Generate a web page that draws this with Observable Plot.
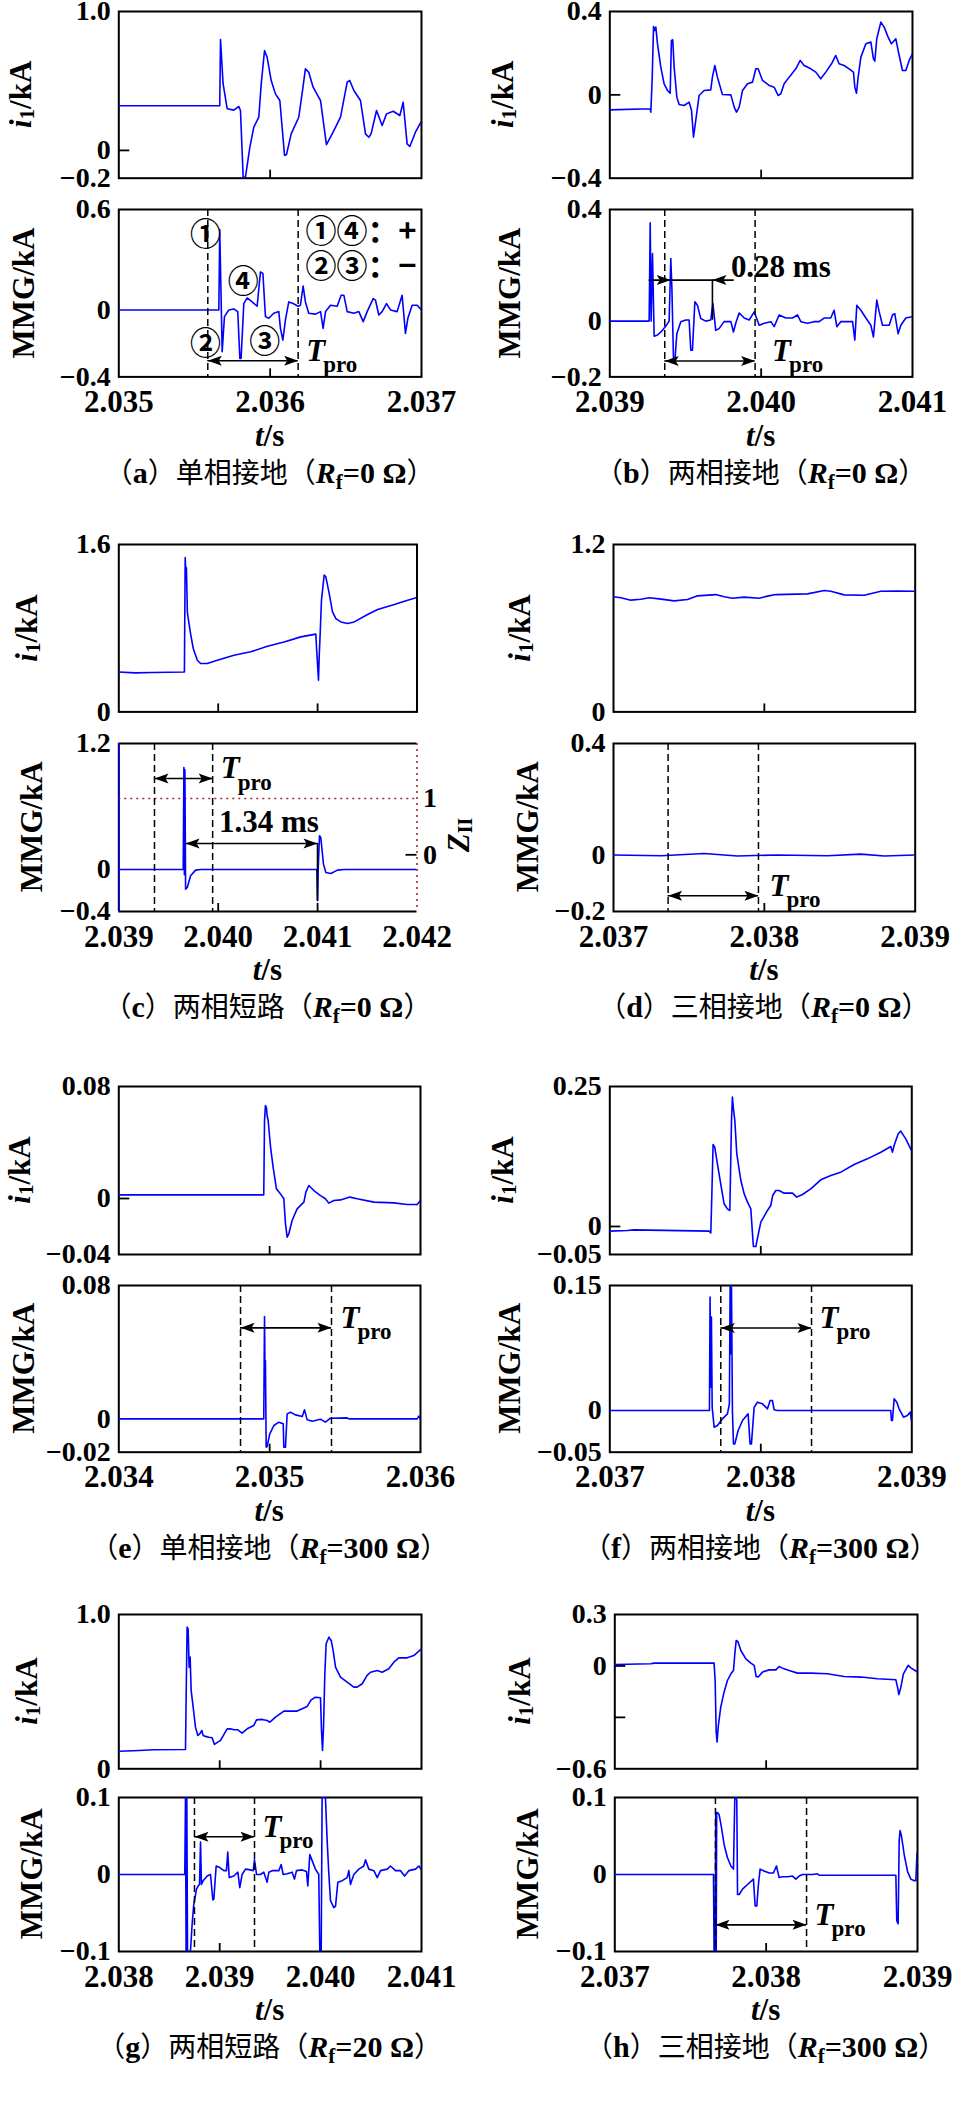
<!DOCTYPE html>
<html><head><meta charset="utf-8">
<script src="https://cdn.jsdelivr.net/npm/d3@7"></script>
<script src="https://cdn.jsdelivr.net/npm/@observablehq/plot@0.6"></script>
<style>
html,body{margin:0;padding:0;background:#fff;}
#page{position:relative;width:955px;height:2107px;overflow:hidden;background:#fff;}
#page [aria-label^="y-axis"] text{font-size:28px;font-weight:bold !important;font-family:'Liberation Serif','Times New Roman',serif;}
</style></head>
<body><div id="page"></div>
<script>
// ---------------- DATA (t in s, value in kA) ----------------
const a_i1 = [[2.035000,0.321],[2.035667,0.321],[2.035672,0.798],[2.035689,0.48],[2.035716,0.30],[2.035760,0.29],[2.035793,0.316],[2.035804,0.287],[2.035822,-0.2],[2.035837,-0.19],[2.035866,0.023],[2.035892,0.167],[2.035925,0.239],[2.035941,0.479],[2.035963,0.719],[2.035980,0.671],[2.036007,0.503],[2.036035,0.407],[2.036064,0.359],[2.036095,-0.037],[2.036108,-0.03],[2.036139,0.119],[2.036189,0.239],[2.036211,0.407],[2.036233,0.587],[2.036255,0.563],[2.036284,0.455],[2.036333,0.359],[2.036372,0.042],[2.036410,0.119],[2.036465,0.239],[2.036509,0.491],[2.036526,0.503],[2.036553,0.431],[2.036597,0.359],[2.036630,0.119],[2.036652,0.095],[2.036667,0.119],[2.036703,0.287],[2.036740,0.179],[2.036769,0.263],[2.036813,0.282],[2.036857,0.251],[2.036879,0.347],[2.036905,0.047],[2.036923,0.028],[2.036960,0.131],[2.037000,0.21]];
const a_mmg = [[2.035,0],[2.035661,0],[2.035667,0.48],[2.035683,-0.25],[2.035698,-0.04],[2.035727,0],[2.035760,0.006],[2.035786,-0.01],[2.035800,-0.29],[2.035808,-0.29],[2.035826,0.038],[2.035848,0.072],[2.035881,0.048],[2.035914,0.022],[2.035936,0.227],[2.035952,0.218],[2.035969,-0.04],[2.035991,-0.05],[2.036024,-0.02],[2.036057,-0.01],[2.036068,-0.11],[2.036084,-0.18],[2.036101,-0.06],[2.036123,0.048],[2.036152,0.038],[2.036185,0.022],[2.036200,0.028],[2.036218,0.142],[2.036233,0.048],[2.036255,-0.02],[2.036300,-0.025],[2.036333,-0.01],[2.036350,-0.11],[2.036366,-0.01],[2.036399,0.028],[2.036443,0.022],[2.036469,0.088],[2.036487,0.088],[2.036509,-0.01],[2.036553,-0.02],[2.036586,-0.01],[2.036615,-0.07],[2.036641,-0.01],[2.036681,0.068],[2.036696,0.058],[2.036718,-0.03],[2.036740,-0.01],[2.036769,0.038],[2.036795,0],[2.036839,-0.01],[2.036872,0.088],[2.036894,-0.14],[2.036910,-0.05],[2.036938,0.028],[2.036971,0.028],[2.037,0]];
const b_i1 = [[2.039000,-0.072],[2.039267,-0.067],[2.039271,-0.083],[2.039280,0.077],[2.039289,0.328],[2.039297,0.309],[2.039304,0.325],[2.039315,0.245],[2.039337,0.133],[2.039359,0.053],[2.039381,0.021],[2.039399,0.008],[2.039407,0.261],[2.039416,0.264],[2.039425,0.133],[2.039443,-0.011],[2.039458,-0.046],[2.039491,-0.051],[2.039524,-0.035],[2.039540,-0.075],[2.039553,-0.203],[2.039568,-0.123],[2.039590,-0.003],[2.039623,0.021],[2.039667,0.024],[2.039678,0.085],[2.039694,0.141],[2.039711,0.085],[2.039744,0.002],[2.039800,0],[2.039822,-0.059],[2.039837,-0.083],[2.039855,-0.059],[2.039877,0.021],[2.039910,0.053],[2.039943,0.061],[2.039965,0.125],[2.039980,0.125],[2.040009,0.069],[2.040053,0.045],[2.040086,0.037],[2.040112,-0.003],[2.040130,0.005],[2.040152,0.053],[2.040185,0.085],[2.040229,0.125],[2.040258,0.165],[2.040284,0.141],[2.040328,0.125],[2.040361,0.109],[2.040394,0.077],[2.040427,0.109],[2.040465,0.149],[2.040493,0.189],[2.040515,0.149],[2.040548,0.141],[2.040581,0.125],[2.040610,0.109],[2.040619,0.037],[2.040630,0.008],[2.040641,0.085],[2.040659,0.181],[2.040692,0.245],[2.040725,0.253],[2.040742,0.173],[2.040751,0.162],[2.040764,0.269],[2.040791,0.349],[2.040813,0.325],[2.040839,0.277],[2.040861,0.245],[2.040890,0.269],[2.040905,0.213],[2.040934,0.117],[2.040956,0.117],[2.040978,0.165],[2.041,0.197]];
const b_mmg = [[2.039,0],[2.039260,0],[2.039267,0.352],[2.039273,0],[2.039282,0.242],[2.039293,-0.054],[2.039315,-0.05],[2.039348,-0.033],[2.039370,-0.018],[2.039392,0],[2.039403,0.224],[2.039410,0.123],[2.039421,-0.14],[2.039430,-0.143],[2.039443,-0.045],[2.039469,-0.002],[2.039502,0.004],[2.039524,0.004],[2.039535,-0.104],[2.039546,-0.104],[2.039562,0.069],[2.039579,0.057],[2.039601,0.009],[2.039634,0],[2.039667,0.004],[2.039681,0.063],[2.039700,-0.033],[2.039722,-0.027],[2.039755,-0.002],[2.039800,-0.002],[2.039817,-0.039],[2.039833,-0.006],[2.039855,0.029],[2.039888,0.011],[2.039921,0.004],[2.039954,0.033],[2.039987,-0.015],[2.040020,-0.008],[2.040064,-0.002],[2.040086,-0.02],[2.040119,0.022],[2.040163,0.011],[2.040207,0.011],[2.040240,0.022],[2.040262,-0.002],[2.040306,-0.008],[2.040350,-0.002],[2.040383,-0.002],[2.040416,0.011],[2.040460,0.011],[2.040482,0.039],[2.040500,-0.02],[2.040526,-0.002],[2.040570,-0.002],[2.040604,-0.002],[2.040619,-0.068],[2.040632,0.057],[2.040659,0.039],[2.040692,0.011],[2.040725,-0.015],[2.040742,-0.057],[2.040764,0.075],[2.040780,0.033],[2.040802,-0.015],[2.040846,-0.015],[2.040868,0.022],[2.040883,0.027],[2.040905,-0.045],[2.040923,-0.015],[2.040956,0.011],[2.041,0.016]];
const c_i1 = [[2.039000,0.382],[2.039168,0.373],[2.039336,0.376],[2.039660,0.382],[2.039668,1.476],[2.039675,1.30],[2.039680,1.38],[2.039690,0.95],[2.039705,0.85],[2.039722,0.749],[2.039749,0.606],[2.039790,0.494],[2.039823,0.462],[2.039890,0.462],[2.039991,0.494],[2.040159,0.542],[2.040327,0.574],[2.040495,0.628],[2.040663,0.669],[2.040831,0.717],[2.040982,0.743],[2.040989,0.621],[2.041009,0.303],[2.041016,0.526],[2.041026,0.749],[2.041039,1.068],[2.041066,1.307],[2.041083,1.291],[2.041117,1.131],[2.041150,0.956],[2.041184,0.892],[2.041234,0.86],[2.041301,0.845],[2.041368,0.86],[2.041503,0.931],[2.041604,0.978],[2.041772,1.026],[2.041906,1.068],[2.042,1.093]];
const c_mmg = [[2.039,1.2],[2.039,-0.4],[2.039,0],[2.039648,0],[2.039655,0.971],[2.039660,-0.05],[2.039665,0.95],[2.039672,-0.187],[2.039689,-0.171],[2.039722,-0.06],[2.039773,-0.006],[2.039823,0],[2.040992,0],[2.040999,-0.298],[2.041006,0],[2.041019,0.321],[2.041032,0.305],[2.041059,0.051],[2.041083,-0.029],[2.041133,-0.038],[2.041200,-0.006],[2.041268,0],[2.042,0]];
const d_i1 = [[2.037000,0.825],[2.037049,0.818],[2.037115,0.801],[2.037181,0.808],[2.037236,0.818],[2.037303,0.810],[2.037402,0.796],[2.037491,0.806],[2.037557,0.832],[2.037678,0.841],[2.037734,0.825],[2.037789,0.815],[2.037866,0.823],[2.037966,0.815],[2.038021,0.830],[2.038076,0.841],[2.038286,0.846],[2.038397,0.870],[2.038441,0.865],[2.038529,0.839],[2.038662,0.836],[2.038772,0.865],[2.038883,0.867],[2.039,0.865]];
const d_mmg = [[2.037,0.002],[2.037314,-0.001],[2.037601,0.007],[2.037822,-0.002],[2.038087,0.002],[2.038419,-0.001],[2.038640,0.005],[2.038795,-0.002],[2.039,0.002]];
const e_i1 = [[2.034,0.0026],[2.034961,0.0026],[2.034966,0.0557],[2.034972,0.0664],[2.034979,0.0648],[2.034983,0.0593],[2.034990,0.0557],[2.035006,0.0367],[2.035023,0.0224],[2.035045,0.0069],[2.035072,0.0033],[2.035094,-0.0002],[2.035105,-0.0181],[2.035116,-0.0276],[2.035127,-0.0252],[2.035149,-0.0157],[2.035182,-0.0074],[2.035227,-0.0026],[2.035240,0.0045],[2.035260,0.0093],[2.035293,0.0057],[2.035337,0.0021],[2.035370,-0.0002],[2.035392,-0.0033],[2.035425,-0.0014],[2.035470,-0.0010],[2.035532,0.0010],[2.035580,-0.0002],[2.035691,-0.0026],[2.035823,-0.0031],[2.035912,-0.0043],[2.035978,-0.0043],[2.036,-0.0014]];
const e_mmg = [[2.034,0],[2.034961,0],[2.034966,0.0614],[2.034970,0.019],[2.034972,0.035],[2.034977,-0.017],[2.034983,-0.0166],[2.035001,-0.009],[2.035028,-0.004],[2.035061,-0.002],[2.035090,-0.003],[2.035094,-0.017],[2.035105,-0.017],[2.035116,0.003],[2.035138,0.004],[2.035171,0.0024],[2.035216,0.0014],[2.035231,0.0054],[2.035249,-0.0006],[2.035282,-0.0014],[2.035337,-0.0002],[2.035370,-0.002],[2.035403,0.0004],[2.035514,0.0006],[2.035525,0],[2.035978,0],[2.035989,0.0016],[2.036,0]];
const f_i1 = [[2.037,-0.0083],[2.037117,-0.0071],[2.037161,-0.006],[2.037658,-0.0083],[2.037669,-0.0113],[2.037676,0.0583],[2.037684,0.1464],[2.037695,0.1417],[2.037709,0.1179],[2.037731,0.0821],[2.037757,0.0405],[2.037779,0.0315],[2.037795,0.0286],[2.037806,0.1893],[2.037812,0.231],[2.037819,0.2101],[2.037828,0.1893],[2.037841,0.1298],[2.037868,0.0821],[2.037890,0.0583],[2.037912,0.0435],[2.037934,0.0315],[2.037945,-0.0131],[2.037951,-0.0357],[2.037967,-0.0357],[2.038000,0.0077],[2.038044,0.0286],[2.038066,0.0375],[2.038079,0.0554],[2.038099,0.0643],[2.038121,0.0643],[2.038155,0.0595],[2.038210,0.0595],[2.038238,0.0524],[2.038276,0.0571],[2.038331,0.0673],[2.038397,0.0833],[2.038464,0.0911],[2.038530,0.0970],[2.038618,0.1107],[2.038706,0.1208],[2.038795,0.1327],[2.038861,0.1429],[2.038872,0.1327],[2.038883,0.1446],[2.038910,0.1655],[2.038927,0.1702],[2.038960,0.1565],[2.039,0.1345]];
const f_mmg = [[2.037,0],[2.037660,0],[2.037664,0.136],[2.037669,0.028],[2.037673,0.112],[2.037678,0.004],[2.037691,-0.02],[2.037713,-0.018],[2.037746,-0.01],[2.037779,-0.004],[2.037792,0.008],[2.037797,0.15],[2.037801,0.068],[2.037806,0.148],[2.037812,0],[2.037819,-0.04],[2.037828,-0.04],[2.037850,-0.024],[2.037879,-0.012],[2.037916,-0.004],[2.037929,-0.04],[2.037938,-0.04],[2.037956,0.004],[2.037978,0.01],[2.038011,0.008],[2.038044,0.002],[2.038062,0.012],[2.038077,0.012],[2.038088,0.001],[2.038110,0],[2.038861,0],[2.038865,-0.012],[2.038872,-0.012],[2.038883,0.014],[2.038901,0.01],[2.038916,0.002],[2.038945,-0.008],[2.038971,-0.006],[2.038989,-0.002],[2.039,-0.014]];
const g_i1 = [[2.038,0.114],[2.038149,0.117],[2.038347,0.123],[2.038661,0.125],[2.038667,0.443],[2.038677,0.918],[2.038687,0.907],[2.038697,0.659],[2.038707,0.724],[2.038717,0.508],[2.038737,0.40],[2.038760,0.27],[2.038783,0.216],[2.038803,0.227],[2.038823,0.248],[2.038836,0.216],[2.038859,0.210],[2.038892,0.205],[2.038925,0.201],[2.038948,0.158],[2.039008,0.184],[2.039074,0.259],[2.039107,0.259],[2.039140,0.253],[2.039180,0.253],[2.039222,0.231],[2.039272,0.259],[2.039338,0.281],[2.039365,0.317],[2.039421,0.320],[2.039470,0.313],[2.039497,0.302],[2.039553,0.335],[2.039636,0.374],[2.039702,0.374],[2.039768,0.374],[2.039817,0.389],[2.039867,0.404],[2.039906,0.447],[2.039949,0.464],[2.039999,0.46],[2.040009,0.248],[2.040019,0.119],[2.040029,0.270],[2.040042,0.616],[2.040055,0.81],[2.040082,0.853],[2.040105,0.832],[2.040124,0.767],[2.040148,0.659],[2.040197,0.594],[2.040263,0.562],[2.040329,0.529],[2.040362,0.529],[2.040412,0.551],[2.040461,0.605],[2.040495,0.626],[2.040561,0.637],[2.040610,0.626],[2.040676,0.648],[2.040726,0.691],[2.040775,0.719],[2.040858,0.719],[2.040924,0.734],[2.041,0.778]];
const g_mmg = [[2.038,0],[2.038654,0],[2.038661,0.1],[2.038667,-0.1],[2.038674,0.1],[2.038681,-0.1],[2.038694,-0.1],[2.038710,-0.1],[2.038727,-0.064],[2.038743,-0.039],[2.038770,-0.019],[2.038786,-0.015],[2.038800,-0.013],[2.038810,0.042],[2.038819,-0.013],[2.038836,-0.008],[2.038876,-0.002],[2.038909,0],[2.038932,-0.033],[2.038942,-0.032],[2.038965,0.011],[2.039001,0.009],[2.039041,0.005],[2.039067,0.005],[2.039080,0.029],[2.039094,-0.004],[2.039140,-0.002],[2.039180,0.003],[2.039199,-0.017],[2.039222,0],[2.039256,0.007],[2.039305,0.006],[2.039332,0.005],[2.039345,0.019],[2.039365,0],[2.039404,0],[2.039437,0.003],[2.039470,-0.01],[2.039487,0.003],[2.039520,0.005],[2.039586,0.005],[2.039609,0.013],[2.039629,0],[2.039669,0.001],[2.039718,0.003],[2.039741,-0.006],[2.039761,0.005],[2.039817,0.006],[2.039860,0.004],[2.039873,-0.015],[2.039893,0.026],[2.039916,0.018],[2.039949,0.007],[2.039982,0],[2.039992,-0.1],[2.040006,-0.1],[2.040015,0.1],[2.040032,0.1],[2.040048,0.1],[2.040065,0.044],[2.040082,0],[2.040098,-0.034],[2.040131,-0.043],[2.040148,-0.041],[2.040171,-0.01],[2.040214,-0.008],[2.040263,-0.004],[2.040280,0.005],[2.040296,-0.013],[2.040329,0],[2.040379,0.007],[2.040428,0.011],[2.040445,0.019],[2.040478,0.007],[2.040528,0.005],[2.040561,-0.004],[2.040594,0.005],[2.040660,0.007],[2.040693,0.011],[2.040742,0.005],[2.040792,0.005],[2.040832,-0.002],[2.040874,0.005],[2.040941,0.007],[2.040974,0.011],[2.041,0.006]];
const h_i1 = [[2.037,0.0084],[2.037238,0.0123],[2.037260,0.0162],[2.037656,0.0162],[2.037663,-0.085],[2.037670,-0.386],[2.037676,-0.444],[2.037683,-0.357],[2.037700,-0.24],[2.037722,-0.153],[2.037744,-0.085],[2.037767,-0.046],[2.037784,-0.027],[2.037793,0.071],[2.037802,0.148],[2.037813,0.143],[2.037833,0.09],[2.037866,0.041],[2.037899,0.016],[2.037921,0.003],[2.037934,-0.062],[2.037947,-0.065],[2.037976,-0.036],[2.038020,-0.023],[2.038064,-0.023],[2.038086,-0.003],[2.038108,-0.013],[2.038152,-0.027],[2.038207,-0.042],[2.038295,-0.042],[2.038405,-0.046],[2.038515,-0.062],[2.038626,-0.065],[2.038736,-0.075],[2.038857,-0.081],[2.038868,-0.124],[2.038877,-0.167],[2.038890,-0.124],[2.038907,-0.046],[2.038938,0.003],[2.038956,-0.011],[2.039,-0.036]];
const h_mmg = [[2.037,0],[2.037652,0],[2.037656,-0.1],[2.037663,-0.1],[2.037667,0.0805],[2.037670,-0.1],[2.037673,0.0805],[2.037678,0.0805],[2.037689,0.078],[2.037705,0.061],[2.037722,0.039],[2.037744,0.022],[2.037767,0.011],[2.037784,0.007],[2.037793,0.1],[2.037802,0.1],[2.037806,0.096],[2.037811,-0.026],[2.037822,-0.026],[2.037844,-0.019],[2.037877,-0.013],[2.037916,-0.006],[2.037927,-0.041],[2.037938,-0.041],[2.037949,-0.013],[2.037960,0.007],[2.037982,0.005],[2.038020,0.002],[2.038048,0.002],[2.038068,0.011],[2.038086,-0.004],[2.038108,-0.003],[2.038141,-0.003],[2.038174,-0.002],[2.038196,-0.006],[2.038218,-0.002],[2.038240,0],[2.038306,0],[2.038339,0.001],[2.038350,-0.001],[2.038857,-0.001],[2.038863,-0.06],[2.038872,-0.064],[2.038879,0.044],[2.038885,0.057],[2.038894,0.05],[2.038912,0.026],[2.038934,0.004],[2.038956,-0.006],[2.038978,-0.008],[2.038989,-0.008],[2.038996,0.026],[2.039,0.029]];

// ticks
const a_xTicks=[2.035,2.036,2.037], b_xTicks=[2.039,2.040,2.041], c_xTicks=[2.039,2.040,2.041,2.042], d_xTicks=[2.037,2.038,2.039];
const e_xTicks=[2.034,2.035,2.036], f_xTicks=[2.037,2.038,2.039], g_xTicks=[2.038,2.039,2.040,2.041], h_xTicks=[2.037,2.038,2.039];
const a_i1Ticks=[1.0,0,-0.2], a_i1Labels=["1.0","0","−0.2"];
const a_mmgTicks=[0.6,0,-0.4], a_mmgLabels=["0.6","0","−0.4"];
const b_i1Ticks=[0.4,0,-0.4], b_i1Labels=["0.4","0","−0.4"];
const b_mmgTicks=[0.4,0,-0.2], b_mmgLabels=["0.4","0","−0.2"];
const c_i1Ticks=[1.6,0], c_i1Labels=["1.6","0"];
const c_mmgTicks=[1.2,0,-0.4], c_mmgLabels=["1.2","0","−0.4"];
const c_zTicks=[1,0], c_zLabels=["1","0"], c_zAt=[0.676,0.140]; // Z_II tick positions on MMG axis
const d_i1Ticks=[1.2,0], d_i1Labels=["1.2","0"];
const d_mmgTicks=[0.4,0,-0.2], d_mmgLabels=["0.4","0","−0.2"];
const e_i1Ticks=[0.08,0,-0.04], e_i1Labels=["0.08","0","−0.04"];
const e_mmgTicks=[0.08,0,-0.02], e_mmgLabels=["0.08","0","−0.02"];
const f_i1Ticks=[0.25,0,-0.05], f_i1Labels=["0.25","0","−0.05"];
const f_mmgTicks=[0.15,0,-0.05], f_mmgLabels=["0.15","0","−0.05"];
const g_i1Ticks=[1.0,0], g_i1Labels=["1.0","0"];
const g_mmgTicks=[0.1,0,-0.1], g_mmgLabels=["0.1","0","−0.1"];
const h_i1Ticks=[0.3,0,-0.6], h_i1Labels=["0.3","0","−0.6"];
const h_mmgTicks=[0.1,0,-0.1], h_mmgLabels=["0.1","0","−0.1"];

// annotations: dashed lines (Tpro limits) and Tpro arrow level
const a_tpro=[2.035588,2.036185], a_tproY=-0.304;
const b_tpro=[2.039363,2.039960], b_tproY=-0.143;
const c_tpro=[2.039359,2.039944], c_tproY=0.867;
const d_tpro=[2.037362,2.037961], d_tproY=-0.144;
const e_tpro=[2.034807,2.035410], e_tproY=0.0546;
const f_tpro=[2.037735,2.038336], f_tproY=0.099;
const g_tpro=[2.038750,2.039345], g_tproY=0.049;
const h_tpro=[2.037665,2.038267], h_tproY=-0.0654;
const b_gap=[2.039260,2.039403,2.039678,2.039822], b_gapY=0.147, b_gapText="0.28 ms";
const c_gap=[2.039672,2.040999], c_gapY=0.248, c_gapText="1.34 ms";
const a_marks=[{s:"①",t:2.035573,v:0.447},{s:"④",t:2.035822,v:0.168},{s:"②",t:2.035573,v:-0.201},{s:"③",t:2.035965,v:-0.191}];
const a_legend=[{s:"①④：+",t:2.036233,v:0.467},{s:"②③：−",t:2.036233,v:0.257}];

const capLetters=["a","b","c","d","e","f","g","h"];
const capNames=["单相接地","两相接地","两相短路","三相接地","单相接地","两相接地","两相短路","三相接地"];
const capRf=["0","0","0","0","300","300","20","300"];

// ---------------- DRAWING ----------------
const BLUE="#0000ff", RED="#a52a2a";
const SERIF="'Liberation Serif','Times New Roman',serif";
const CJK="'Noto Sans CJK SC','Noto Sans CJK JP',sans-serif";
const page=document.getElementById("page");

function headSym(dir){return {draw(ctx){const L=14,W=5,N=3;ctx.moveTo(0,0);ctx.lineTo(-dir*L,-W);ctx.lineTo(-dir*(L-N),0);ctx.lineTo(-dir*L,W);ctx.closePath();}};}
const HEAD_R=headSym(1), HEAD_L=headSym(-1);
function head(x,y,sym){return Plot.dot([{x,y}],{x:"x",y:"y",symbol:sym,fill:"black",stroke:"none"});}
function dblArrow(x1,x2,y){return [Plot.ruleY([{x1,x2,y}],{x1:"x1",x2:"x2",y:"y",stroke:"black",strokeWidth:1.6}),head(x1,y,HEAD_L),head(x2,y,HEAD_R)];}
function tproText(x,y,dx){return [
  Plot.text([{x,y}],{x:"x",y:"y",text:()=>"T",fontStyle:"italic",fontWeight:"bold",fontSize:31,fontFamily:SERIF,textAnchor:"start",dx:dx,dy:-10}),
  Plot.text([{x,y}],{x:"x",y:"y",text:()=>"pro",fontWeight:"bold",fontSize:23,fontFamily:SERIF,textAnchor:"start",dx:dx+17,dy:4})];}
function tproMarks(tp,y,dx=8){return [
  Plot.ruleX(tp,{x:d=>d,stroke:"black",strokeWidth:1.5,strokeDasharray:"7,4"}),
  ...dblArrow(tp[0],tp[1],y), ...tproText(tp[1],y,dx)];}

function sub(cfg){
  const [fl,fr,ft,fb]=cfg.frame;
  const colLeft=fl>477?477:0;
  const ML=fl-colLeft, MR=45, MT=16, MB=cfg.showX?50:8;
  const iw=fr-fl, ih=fb-ft;
  const xDomain=d3.extent(cfg.xTicks), yDomain=d3.extent(cfg.yTicks);
  const marks=[];
  if(cfg.customFrame) marks.push(...cfg.customFrame(xDomain,yDomain,iw,ih));
  else marks.push(Plot.frame({stroke:"black",strokeWidth:2}));
  if(cfg.inY) marks.push(Plot.tickY(cfg.inY,{y:d=>d,insetRight:iw-11,stroke:"black",strokeWidth:1.8}));
  if(cfg.inX) marks.push(Plot.tickX(cfg.inX,{x:d=>d,insetTop:ih-8,stroke:"black",strokeWidth:1.8}));
  marks.push(Plot.line(cfg.data,{x:d=>d[0],y:d=>d[1],stroke:BLUE,strokeWidth:1.6,clip:true}));
  if(cfg.showX) marks.push(Plot.text(cfg.xTicks,{x:d=>d,y:()=>yDomain[0],text:d=>d.toFixed(3),
      lineAnchor:"top",dy:13,fontSize:31,fontWeight:"bold",fontFamily:SERIF,textAnchor:"middle"}));
  if(cfg.extra) marks.push(...cfg.extra);
  const svg=Plot.plot({
    width:iw+ML+MR, height:ih+MT+MB,
    marginLeft:ML, marginRight:MR, marginTop:MT, marginBottom:MB,
    x: {domain:xDomain, axis:null},
    y: {domain:yDomain, ticks:cfg.yTicks, tickFormat:d=>cfg.yLabels[cfg.yTicks.indexOf(d)], tickSize:0, tickPadding:8, label:null},
    style:{background:"transparent",overflow:"visible",fontFamily:SERIF,fontSize:"28px",fontWeight:"bold",color:"black"},
    marks
  });
  svg.style.position="absolute"; svg.style.left=colLeft+"px"; svg.style.top=(ft-MT)+"px";
  svg.style.maxWidth="none";
  page.appendChild(svg);
}

const F={ // frames [left,right,top,bottom] in page px
  a:[[118.3,421,11,177.7],[118.3,421,209.3,376.7]],
  b:[[609.3,912,11,177.7],[609.3,912,209.3,376.7]],
  c:[[118.3,416.5,544.3,711.7],[118.3,416.5,742.7,910.7]],
  d:[[613,914.7,544.3,711.7],[613,914.7,742.7,910.7]],
  e:[[118.3,420,1086,1254],[118.3,420,1285,1451.7]],
  f:[[609.3,911.3,1086,1254],[609.3,911.3,1285,1451.7]],
  g:[[118.3,421,1614,1768.3],[118.3,421,1796.7,1950.7]],
  h:[[614.3,917,1614,1768.3],[614.3,917,1796.7,1950.7]]
};
const LX={a:[20,23],b:[502,509],c:[26,31],d:[519,527],e:[19,23],f:[502,509],g:[26,31],h:[519,527]};

// (a)
sub({frame:F.a[0],xTicks:a_xTicks,yTicks:a_i1Ticks,yLabels:a_i1Labels,data:a_i1,inY:[0],inX:[2.036]});
sub({frame:F.a[1],xTicks:a_xTicks,yTicks:a_mmgTicks,yLabels:a_mmgLabels,data:a_mmg,showX:true,inX:[2.036],
  extra:[...tproMarks(a_tpro,a_tproY),
    Plot.text(a_marks,{x:"t",y:"v",text:"s",fontFamily:CJK,fontWeight:"bold",fontSize:31,textAnchor:"middle"}),
    Plot.text(a_legend,{x:"t",y:"v",text:"s",fontFamily:CJK,fontWeight:"bold",fontSize:31,textAnchor:"start"})]});
// (b)
sub({frame:F.b[0],xTicks:b_xTicks,yTicks:b_i1Ticks,yLabels:b_i1Labels,data:b_i1,inY:[0],inX:[2.040]});
sub({frame:F.b[1],xTicks:b_xTicks,yTicks:b_mmgTicks,yLabels:b_mmgLabels,data:b_mmg,showX:true,inX:[2.040],
  extra:[...tproMarks(b_tpro,b_tproY,17),
    Plot.ruleY([{x1:b_gap[0],x2:b_gap[3],y:b_gapY}],{x1:"x1",x2:"x2",y:"y",stroke:"black",strokeWidth:1.6}),
    Plot.ruleX([{x:b_gap[2],y1:0.003,y2:b_gapY}],{x:"x",y1:"y1",y2:"y2",stroke:"black",strokeWidth:1.6}),
    head(b_gap[1],b_gapY,HEAD_R), head(b_gap[2],b_gapY,HEAD_L),
    Plot.text([{x:2.039800,y:0.194}],{x:"x",y:"y",text:()=>b_gapText,fontWeight:"bold",fontSize:31,fontFamily:SERIF,textAnchor:"start"})]});
// (c)
sub({frame:F.c[0],xTicks:c_xTicks,yTicks:c_i1Ticks,yLabels:c_i1Labels,data:c_i1,inX:[2.040,2.041]});
sub({frame:F.c[1],xTicks:c_xTicks,yTicks:c_mmgTicks,yLabels:c_mmgLabels,data:c_mmg,showX:true,inX:[2.040,2.041],
  customFrame:(xd,yd,iw,ih)=>[
    Plot.ruleY([yd[0],yd[1]],{y:d=>d,stroke:"black",strokeWidth:2}),
    Plot.ruleX([xd[0]],{x:d=>d,stroke:"black",strokeWidth:2}),
    Plot.ruleX([xd[1]],{x:d=>d,stroke:RED,strokeWidth:1.6,strokeDasharray:"2,4"}),
    Plot.ruleY([c_zAt[0]],{y:d=>d,stroke:RED,strokeWidth:1.6,strokeDasharray:"2,4"}),
    Plot.tickY([c_zAt[1]],{y:d=>d,insetLeft:iw-11,stroke:"black",strokeWidth:1.8}),
    Plot.text(c_zTicks,{x:()=>xd[1],y:(d,i)=>c_zAt[i],text:(d,i)=>c_zLabels[i],fontWeight:"bold",fontSize:28,fontFamily:SERIF,textAnchor:"start",dx:6})],
  extra:[...tproMarks(c_tpro,c_tproY),
    ...dblArrow(c_gap[0],c_gap[1],c_gapY),
    Plot.ruleX([{x:c_gap[1],y1:-0.30,y2:c_gapY}],{x:"x",y1:"y1",y2:"y2",stroke:"black",strokeWidth:1.6}),
    Plot.text([{x:2.040008,y:0.448}],{x:"x",y:"y",text:()=>c_gapText,fontWeight:"bold",fontSize:31,fontFamily:SERIF,textAnchor:"start"})]});
// (d)
sub({frame:F.d[0],xTicks:d_xTicks,yTicks:d_i1Ticks,yLabels:d_i1Labels,data:d_i1,inX:[2.038]});
sub({frame:F.d[1],xTicks:d_xTicks,yTicks:d_mmgTicks,yLabels:d_mmgLabels,data:d_mmg,showX:true,inX:[2.038],
  extra:[...tproMarks(d_tpro,d_tproY,11)]});
// (e)
sub({frame:F.e[0],xTicks:e_xTicks,yTicks:e_i1Ticks,yLabels:e_i1Labels,data:e_i1,inY:[0],inX:[2.035]});
sub({frame:F.e[1],xTicks:e_xTicks,yTicks:e_mmgTicks,yLabels:e_mmgLabels,data:e_mmg,showX:true,inX:[2.035],
  extra:[...tproMarks(e_tpro,e_tproY,9)]});
// (f)
sub({frame:F.f[0],xTicks:f_xTicks,yTicks:f_i1Ticks,yLabels:f_i1Labels,data:f_i1,inY:[0],inX:[2.038]});
sub({frame:F.f[1],xTicks:f_xTicks,yTicks:f_mmgTicks,yLabels:f_mmgLabels,data:f_mmg,showX:true,inX:[2.038],
  extra:[...tproMarks(f_tpro,f_tproY)]});
// (g)
sub({frame:F.g[0],xTicks:g_xTicks,yTicks:g_i1Ticks,yLabels:g_i1Labels,data:g_i1,inX:[2.039,2.040]});
sub({frame:F.g[1],xTicks:g_xTicks,yTicks:g_mmgTicks,yLabels:g_mmgLabels,data:g_mmg,showX:true,inX:[2.039,2.040],
  extra:[...tproMarks(g_tpro,g_tproY)]});
// (h)
sub({frame:F.h[0],xTicks:h_xTicks,yTicks:h_i1Ticks,yLabels:h_i1Labels,data:h_i1,inY:[0,-0.3],inX:[2.038]});
sub({frame:F.h[1],xTicks:h_xTicks,yTicks:h_mmgTicks,yLabels:h_mmgLabels,data:h_mmg,showX:true,inX:[2.038],
  extra:[...tproMarks(h_tpro,h_tproY)]});

// ---------------- overlay text ----------------
const ov=d3.select(page).append("svg").attr("width",955).attr("height",2107)
  .style("position","absolute").style("left","0px").style("top","0px").style("pointer-events","none");
function yLabel(x,y,kind){
  const t=ov.append("text").attr("transform",`translate(${x},${y}) rotate(-90)`).attr("text-anchor","middle")
    .attr("dominant-baseline","central").attr("font-family",SERIF).attr("font-weight","bold").attr("font-size",31);
  if(kind==="i1"){t.append("tspan").attr("font-style","italic").text("i");
    t.append("tspan").attr("font-size",21).attr("dy",7).text("1");
    t.append("tspan").attr("dy",-7).text("/kA");}
  else t.append("tspan").text("MMG/kA");
}
function tsLabel(cx,y){
  const t=ov.append("text").attr("x",cx).attr("y",y).attr("text-anchor","middle").attr("font-family",SERIF).attr("font-weight","bold").attr("font-size",31);
  t.append("tspan").attr("font-style","italic").text("t"); t.append("tspan").text("/s");
}
function caption(cx,y,i){
  const t=ov.append("text").attr("x",cx).attr("y",y).attr("text-anchor","middle").attr("font-size",28).attr("font-weight","bold");
  t.append("tspan").attr("font-family",CJK).attr("font-weight","normal").text("（");
  t.append("tspan").attr("font-family",SERIF).attr("font-size",30).text(capLetters[i]);
  t.append("tspan").attr("font-family",CJK).attr("font-weight","normal").text("）"+capNames[i]+"（");
  t.append("tspan").attr("font-family",SERIF).attr("font-size",30).attr("font-style","italic").text("R");
  t.append("tspan").attr("font-family",SERIF).attr("font-size",21).attr("dy",6).text("f");
  t.append("tspan").attr("font-family",SERIF).attr("font-size",30).attr("dy",-6).text("="+capRf[i]+" Ω");
  t.append("tspan").attr("font-family",CJK).attr("font-weight","normal").text("）");
}
"abcdefgh".split("").forEach((k,i)=>{
  const [i1f,mf]=F[k];
  yLabel(LX[k][0],(i1f[2]+i1f[3])/2,"i1");
  yLabel(LX[k][1],(mf[2]+mf[3])/2,"mmg");
  tsLabel((mf[0]+mf[1])/2,mf[3]+69);
  caption((mf[0]+mf[1])/2,mf[3]+106,i);
});
// Z_II label on right of (c)
{const t=ov.append("text").attr("transform","translate(458,835) rotate(-90)").attr("text-anchor","middle")
  .attr("dominant-baseline","central").attr("font-family",SERIF).attr("font-weight","bold").attr("font-size",31);
 t.append("tspan").attr("font-style","italic").text("Z");
 t.append("tspan").attr("font-size",20).attr("dy",7).text("II");}
</script></body></html>
